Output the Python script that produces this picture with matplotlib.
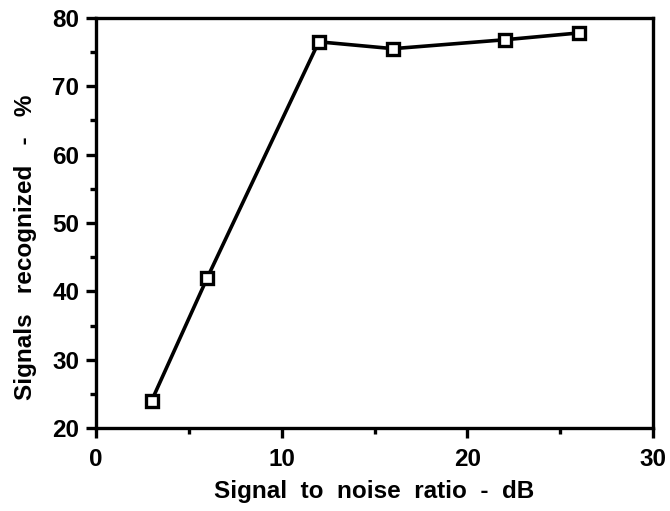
import matplotlib
matplotlib.use("Agg")
import matplotlib.pyplot as plt
from matplotlib.ticker import MultipleLocator

# data
snr_db = [3, 6, 12, 16, 22, 26]
recognized_pct = [24, 42, 76.5, 75.5, 76.8, 77.8]

x_ticks = [0, 10, 20, 30]
y_ticks = [20, 30, 40, 50, 60, 70, 80]

plt.rcParams["font.family"] = ["Liberation Sans", "DejaVu Sans"]
plt.rcParams["font.weight"] = "bold"

fig = plt.figure(figsize=(6.7, 5.11), dpi=100)
ax = fig.add_axes([0.143, 0.162, 0.832, 0.803])

ax.plot(snr_db, recognized_pct, color="black", lw=2.6,
        marker="s", ms=9, mfc="white", mec="black", mew=2.4)

ax.set_xlim(0, 30)
ax.set_ylim(20, 80)
ax.set_xticks(x_ticks)
ax.set_yticks(y_ticks)
ax.xaxis.set_minor_locator(MultipleLocator(5))
ax.yaxis.set_minor_locator(MultipleLocator(5))

for spine in ax.spines.values():
    spine.set_linewidth(2.4)

ax.tick_params(which="major", direction="out", length=7, width=2.4,
               labelsize=17.5, pad=7)
ax.tick_params(which="minor", direction="out", length=4, width=2.4)
ax.tick_params(axis="y", which="major", pad=5)

ax.set_xlabel("Signal  to  noise  ratio  -  dB", fontsize=17.5,
              fontweight="bold", labelpad=7)
ax.set_ylabel("Signals   recognized   -   %", fontsize=17.5,
              fontweight="bold")
# the y title sits a little below the middle of the axis in the original
ax.yaxis.set_label_coords(-0.105, 0.44)

fig.savefig("out.png", dpi=100, facecolor="white")
